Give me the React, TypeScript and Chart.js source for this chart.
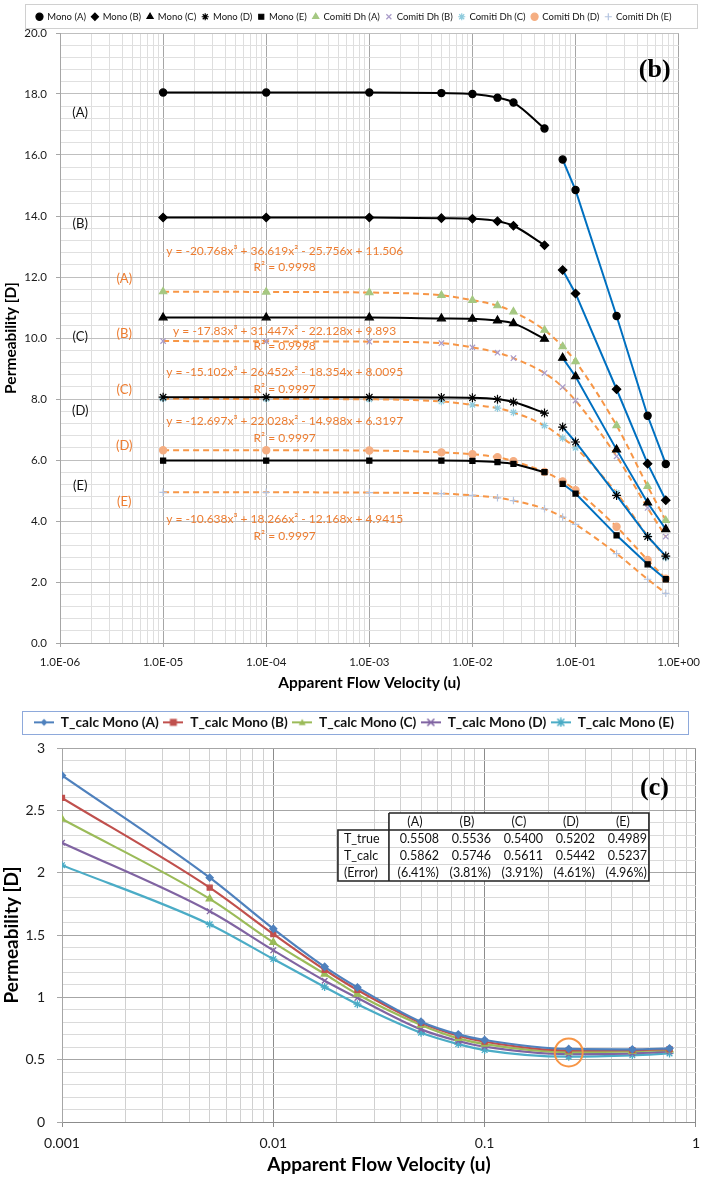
import { useEffect, useRef } from 'react';
import { Chart, registerables } from 'chart.js';

Chart.register(...registerables);

const SANS = 'Lato, "Liberation Sans", sans-serif';
const SERIF = '"Liberation Serif", "Times New Roman", serif';
Chart.defaults.font.family = SANS;
Chart.defaults.color = '#1a1a1a';

// ---------- panel (b): permeability vs apparent flow velocity ----------
const LOW_U = [1e-5, 1e-4, 1e-3, 5e-3, 1e-2, 1.75e-2, 2.5e-2, 5e-2];
const HIGH_U = [7.5e-2, 0.1, 0.25, 0.5, 0.75];
const ALL_U = [...LOW_U, ...HIGH_U];
const CASES = ['(A)', '(B)', '(C)', '(D)', '(E)'];

const MONO_A_LOW = [18.05, 18.05, 18.05, 18.03, 18.0, 17.88, 17.72, 16.87];
const MONO_B_LOW = [13.95, 13.95, 13.95, 13.93, 13.91, 13.83, 13.68, 13.04];
const MONO_C_LOW = [10.67, 10.67, 10.67, 10.64, 10.63, 10.57, 10.48, 9.97];
const MONO_D_LOW = [8.06, 8.06, 8.06, 8.05, 8.04, 7.99, 7.9, 7.54];
const MONO_E_LOW = [5.98, 5.98, 5.98, 5.98, 5.97, 5.93, 5.87, 5.6];

const MONO_A_HIGH = [15.85, 14.85, 10.72, 7.45, 5.87];
const MONO_B_HIGH = [12.23, 11.46, 8.32, 5.88, 4.68];
const MONO_C_HIGH = [9.35, 8.74, 6.34, 4.6, 3.73];
const MONO_D_HIGH = [7.08, 6.59, 4.84, 3.49, 2.85];
const MONO_E_HIGH = [5.22, 4.9, 3.53, 2.58, 2.09];

const COMITI_A = [11.52, 11.51, 11.49, 11.4, 11.24, 11.06, 10.86, 10.26, 9.72, 9.23, 7.13, 5.14, 4.02];
const COMITI_B = [9.9, 9.89, 9.88, 9.83, 9.69, 9.52, 9.34, 8.85, 8.39, 7.95, 6.12, 4.43, 3.49];
const COMITI_C = [8.01, 8.0, 7.99, 7.92, 7.81, 7.7, 7.56, 7.13, 6.72, 6.4, 4.92, 3.51, 2.8];
const COMITI_D = [6.32, 6.32, 6.31, 6.25, 6.19, 6.09, 5.96, 5.61, 5.3, 5.01, 3.81, 2.72, 2.11];
const COMITI_E = [4.94, 4.94, 4.93, 4.9, 4.84, 4.76, 4.67, 4.4, 4.13, 3.89, 2.93, 2.09, 1.63];

const FIT_EQUATIONS = [
  'y = -20.768x³ + 36.619x² - 25.756x + 11.506',
  'y = -17.83x³ + 31.447x² - 22.128x + 9.893',
  'y = -15.102x³ + 26.452x² - 18.354x + 8.0095',
  'y = -12.697x³ + 22.028x² - 14.988x + 6.3197',
  'y = -10.638x³ + 18.266x² - 12.168x + 4.9415',
];
const FIT_R2 = ['R² = 0.9998', 'R² = 0.9998', 'R² = 0.9997', 'R² = 0.9997', 'R² = 0.9997'];

// where the text notes of panel (b) sit, in axis units
const MONO_TAG_U = 1.57e-6;
const COMITI_TAG_U = 4.2e-6;
const EQ_U = 1.51e-4;
const MONO_TAG_Y = [17.39, 13.73, 10.05, 7.6, 5.14];
const COMITI_TAG_Y = [11.95, 10.13, 8.3, 6.45, 4.62];
const EQ_Y = [12.85, 10.21, 8.87, 7.27, 4.05];
const R2_Y = [12.31, 9.72, 8.32, 6.72, 3.51];

// ---------- panel (c): T_calc ----------
const U = [0.001, 0.005, 0.01, 0.0175, 0.025, 0.05, 0.075, 0.1, 0.25, 0.5, 0.75];
const TCALC_A = [2.78, 1.96, 1.55, 1.245, 1.08, 0.804, 0.703, 0.658, 0.5862, 0.583, 0.591];
const TCALC_B = [2.6, 1.88, 1.508, 1.221, 1.059, 0.796, 0.692, 0.644, 0.5746, 0.577, 0.585];
const TCALC_C = [2.43, 1.79, 1.441, 1.187, 1.025, 0.778, 0.671, 0.625, 0.5611, 0.566, 0.578];
const TCALC_D = [2.24, 1.69, 1.377, 1.133, 0.995, 0.743, 0.65, 0.604, 0.5442, 0.55, 0.566];
const TCALC_E = [2.06, 1.585, 1.307, 1.083, 0.945, 0.716, 0.625, 0.577, 0.5237, 0.535, 0.55];

const TABLE_COLS = ['(A)', '(B)', '(C)', '(D)', '(E)'];
const T_TRUE = [0.5508, 0.5536, 0.54, 0.5202, 0.4989];
const T_CALC = [0.5862, 0.5746, 0.5611, 0.5442, 0.5237];
const T_ERROR = ['(6.41%)', '(3.81%)', '(3.91%)', '(4.61%)', '(4.96%)'];
const OPT_U = 0.25;

const pts = (xs: number[], ys: number[]) => xs.map((x, i) => ({ x, y: ys[i] }));
const isDecade = (v: number) => Math.abs(Math.log10(v) - Math.round(Math.log10(v))) < 1e-6;
const isStep = (v: number, s: number) => Math.abs(v / s - Math.round(v / s)) < 1e-6;
const sci = (v: number) => {
  const e = Math.round(Math.log10(v));
  return `1.0E${e < 0 ? '-' : '+'}${String(Math.abs(e)).padStart(2, '0')}`;
};
const logTicks = (e0: number, e1: number) => {
  const out: { value: number }[] = [];
  for (let e = e0; e < e1; e++) for (let m = 1; m < 10; m++) out.push({ value: +(m * 10 ** e).toPrecision(6) });
  out.push({ value: 10 ** e1 });
  return out;
};
const linTicks = (n: number, step: number) =>
  Array.from({ length: n + 1 }, (_, i) => ({ value: +(i * step).toFixed(2) }));

// keeps a legend at a fixed height so the plot area lands where wanted
const legendHeight = (h: number) => ({
  id: 'legendHeight',
  beforeLayout(chart: any) {
    const lg = chart.legend;
    if (lg && !lg.__fixed) {
      const fit = lg.fit.bind(lg);
      lg.fit = () => {
        fit();
        lg.height = h;
      };
      lg.__fixed = true;
    }
  },
});

const legendFrame = (color: string, x0: number, y0: number, x1: number, y1: number) => ({
  id: 'legendFrame',
  afterDraw(chart: any) {
    const { ctx } = chart;
    ctx.save();
    ctx.strokeStyle = color;
    ctx.lineWidth = 1;
    ctx.strokeRect(x0 + 0.5, y0 + 0.5, x1 - x0, y1 - y0);
    ctx.restore();
  },
});

const panelBNotes = {
  id: 'panelBNotes',
  afterDatasetsDraw(chart: any) {
    const { ctx, chartArea: a } = chart;
    const x = chart.scales.x;
    const y = chart.scales.y;
    ctx.save();
    ctx.textAlign = 'center';
    ctx.textBaseline = 'middle';
    ctx.font = `13px ${SANS}`;
    ctx.fillStyle = '#111';
    CASES.forEach((c, i) => ctx.fillText(c, x.getPixelForValue(MONO_TAG_U), y.getPixelForValue(MONO_TAG_Y[i])));
    ctx.fillStyle = '#ED7D31';
    CASES.forEach((c, i) => ctx.fillText(c, x.getPixelForValue(COMITI_TAG_U), y.getPixelForValue(COMITI_TAG_Y[i])));
    ctx.font = `12px ${SANS}`;
    FIT_EQUATIONS.forEach((t, i) => {
      ctx.fillText(t, x.getPixelForValue(EQ_U), y.getPixelForValue(EQ_Y[i]));
      ctx.fillText(FIT_R2[i], x.getPixelForValue(EQ_U), y.getPixelForValue(R2_Y[i]));
    });
    ctx.font = `bold 26px ${SERIF}`;
    ctx.fillStyle = '#000';
    ctx.textAlign = 'right';
    ctx.fillText('(b)', a.right - 8, a.top + 37);
    ctx.restore();
  },
};

const panelCNotes = {
  id: 'panelCNotes',
  afterDatasetsDraw(chart: any) {
    const { ctx, chartArea: a } = chart;
    const x = chart.scales.x;
    const y = chart.scales.y;
    ctx.save();
    // ring round the optimum
    const mean = T_CALC.reduce((s, v) => s + v, 0) / T_CALC.length;
    ctx.strokeStyle = '#F79646';
    ctx.lineWidth = 2;
    ctx.beginPath();
    ctx.arc(x.getPixelForValue(OPT_U), y.getPixelForValue(mean), 14, 0, Math.PI * 2);
    ctx.stroke();

    // results table
    const colW = 52;
    const labW = 51;
    const rowH = 17;
    const right = a.right - 47;
    const top = a.top + 65;
    const left = right - colW * 5 - labW;
    const split = left + labW;
    const bottom = top + rowH * 4;
    ctx.fillStyle = '#fff';
    ctx.fillRect(split, top, right - split, rowH);
    ctx.fillRect(left, top + rowH, right - left, rowH * 3);

    ctx.strokeStyle = '#d6d6d6';
    ctx.lineWidth = 1;
    ctx.beginPath();
    [2, 3].forEach((r) => {
      ctx.moveTo(left, top + rowH * r + 0.5);
      ctx.lineTo(right, top + rowH * r + 0.5);
    });
    ctx.stroke();

    ctx.strokeStyle = '#222';
    ctx.lineWidth = 1.6;
    ctx.beginPath();
    ctx.moveTo(split, top);
    ctx.lineTo(right, top);
    ctx.lineTo(right, bottom);
    ctx.lineTo(left, bottom);
    ctx.lineTo(left, top + rowH);
    ctx.lineTo(right, top + rowH);
    ctx.moveTo(split, top);
    ctx.lineTo(split, bottom);
    ctx.stroke();

    ctx.fillStyle = '#111';
    ctx.font = `12.5px ${SANS}`;
    ctx.textBaseline = 'middle';
    ctx.textAlign = 'center';
    TABLE_COLS.forEach((c, i) => ctx.fillText(c, split + colW * i + colW / 2, top + rowH / 2));
    const rows: [string, string[]][] = [
      ['T_true', T_TRUE.map((v) => v.toFixed(4))],
      ['T_calc', T_CALC.map((v) => v.toFixed(4))],
      ['(Error)', T_ERROR],
    ];
    rows.forEach(([label, vals], r) => {
      const cy = top + rowH * (r + 1) + rowH / 2;
      ctx.textAlign = 'left';
      ctx.fillText(label, left + 6, cy);
      ctx.textAlign = 'right';
      vals.forEach((v, i) => ctx.fillText(v, split + colW * (i + 1) - 2, cy));
    });

    ctx.font = `bold 26px ${SERIF}`;
    ctx.fillStyle = '#000';
    ctx.textAlign = 'right';
    ctx.fillText('(c)', a.right - 27, a.top + 40);
    ctx.restore();
  },
};

function marker(g: CanvasRenderingContext2D, shape: string, cx: number, cy: number, r: number) {
  g.beginPath();
  if (shape === 'rectRot') {
    g.moveTo(cx, cy - r);
    g.lineTo(cx + r, cy);
    g.lineTo(cx, cy + r);
    g.lineTo(cx - r, cy);
    g.closePath();
    g.fill();
  } else if (shape === 'rect') {
    g.fillRect(cx - r, cy - r, r * 2, r * 2);
  } else if (shape === 'triangle') {
    g.moveTo(cx, cy - r);
    g.lineTo(cx + r, cy + r * 0.8);
    g.lineTo(cx - r, cy + r * 0.8);
    g.closePath();
    g.fill();
  } else {
    g.moveTo(cx - r, cy - r);
    g.lineTo(cx + r, cy + r);
    g.moveTo(cx + r, cy - r);
    g.lineTo(cx - r, cy + r);
    if (shape === 'star') {
      g.moveTo(cx, cy - r * 1.3);
      g.lineTo(cx, cy + r * 1.3);
    }
    g.stroke();
  }
}

function legendIcon(color: string, shape: string) {
  const c = document.createElement('canvas');
  c.width = 20;
  c.height = 10;
  const g = c.getContext('2d')!;
  g.strokeStyle = color;
  g.fillStyle = color;
  g.lineWidth = 2;
  g.beginPath();
  g.moveTo(0, 5);
  g.lineTo(20, 5);
  g.stroke();
  g.lineWidth = 1.5;
  marker(g, shape, 10, 5, 3.5);
  return c;
}

const gridColor = (major: string, minor: string, test: (v: number) => boolean) => (c: any) =>
  c.tick && test(c.tick.value) ? major : minor;

function topConfig(): any {
  const monoLow = [MONO_A_LOW, MONO_B_LOW, MONO_C_LOW, MONO_D_LOW, MONO_E_LOW];
  const monoHigh = [MONO_A_HIGH, MONO_B_HIGH, MONO_C_HIGH, MONO_D_HIGH, MONO_E_HIGH];
  const comiti = [COMITI_A, COMITI_B, COMITI_C, COMITI_D, COMITI_E];
  const monoShape = [
    { s: 'circle', r: 3.6 },
    { s: 'rectRot', r: 4.2 },
    { s: 'triangle', r: 4.6 },
    { s: 'star', r: 4.5 },
    { s: 'rect', r: 3.6 },
  ];
  const comitiShape = [
    { s: 'triangle', r: 4.2, c: '#A5C882' },
    { s: 'crossRot', r: 3.8, c: '#A99BC9' },
    { s: 'star', r: 3.8, c: '#8FCBDD' },
    { s: 'circle', r: 3.6, c: '#F5AE82' },
    { s: 'cross', r: 3.8, c: '#B4C4E0' },
  ];
  const monoPoint = (i: number) => ({
    pointStyle: monoShape[i].s,
    pointRadius: monoShape[i].r,
    pointBackgroundColor: '#000',
    pointBorderColor: '#000',
    pointBorderWidth: 1.2,
  });
  const datasets = [
    ...CASES.map((c, i) => ({
      label: `Mono ${c}`,
      data: pts(LOW_U, monoLow[i]),
      borderColor: '#000',
      borderWidth: 2,
      cubicInterpolationMode: 'monotone',
      ...monoPoint(i),
    })),
    ...CASES.map((c, i) => ({
      label: `Mono ${c}`,
      data: pts(HIGH_U, monoHigh[i]),
      borderColor: '#0070C0',
      borderWidth: 2,
      tension: 0,
      ...monoPoint(i),
    })),
    ...CASES.map((c, i) => ({
      label: `Comiti Dh ${c}`,
      data: pts(ALL_U, comiti[i]),
      borderColor: '#F79646',
      borderWidth: 2,
      borderDash: [6, 4],
      cubicInterpolationMode: 'monotone',
      pointStyle: comitiShape[i].s,
      pointRadius: comitiShape[i].r,
      pointBackgroundColor: comitiShape[i].c,
      pointBorderColor: comitiShape[i].c,
      pointBorderWidth: 1.2,
    })),
  ];
  return {
    type: 'line',
    data: { datasets },
    options: {
      animation: false,
      responsive: true,
      maintainAspectRatio: false,
      events: [],
      layout: { padding: { top: 6, left: 0, right: 0, bottom: 0 } },
      plugins: {
        tooltip: { enabled: false },
        legend: {
          position: 'top',
          labels: {
            usePointStyle: true,
            boxWidth: 6,
            boxHeight: 5,
            padding: 6,
            color: '#111',
            font: { size: 9.5 },
            filter: (item: any) => item.datasetIndex < 5 || item.datasetIndex >= 10,
          },
        },
      },
      scales: {
        x: {
          type: 'logarithmic',
          min: 1e-6,
          max: 1,
          afterBuildTicks: (s: any) => {
            s.ticks = logTicks(-6, 0);
          },
          afterFit: (s: any) => {
            s.height = 52;
          },
          ticks: {
            autoSkip: false,
            maxRotation: 0,
            padding: 8,
            font: { size: 11.5 },
            callback: (v: any) => (isDecade(+v) ? sci(+v) : ''),
          },
          grid: {
            color: gridColor('#A6A6A6', '#DEDEDE', isDecade),
            tickColor: gridColor('#A6A6A6', 'rgba(0,0,0,0)', isDecade),
            tickLength: 4,
          },
          border: { color: '#A6A6A6' },
          title: {
            display: true,
            text: 'Apparent Flow Velocity (u)',
            color: '#000',
            font: { size: 15.5, weight: 'bold' },
            padding: { top: 0, bottom: 3 },
          },
        },
        y: {
          min: 0,
          max: 20,
          afterBuildTicks: (s: any) => {
            s.ticks = linTicks(50, 0.4);
          },
          afterFit: (s: any) => {
            s.width = 60;
          },
          ticks: {
            autoSkip: false,
            padding: 9,
            font: { size: 11.5 },
            callback: (v: any) => (isStep(+v, 2) ? (+v).toFixed(1) : ''),
          },
          grid: {
            color: gridColor('#BFBFBF', '#E0E0E0', (v) => isStep(v, 2)),
            tickColor: gridColor('#A6A6A6', 'rgba(0,0,0,0)', (v) => isStep(v, 2)),
            tickLength: 4,
          },
          border: { color: '#A6A6A6' },
          title: {
            display: true,
            text: 'Permeability [D]',
            color: '#000',
            font: { size: 15.5, weight: 'bold' },
            padding: { top: 2, bottom: 0 },
          },
        },
        pad: {
          position: 'right',
          display: true,
          afterFit: (s: any) => {
            s.width = 25;
          },
          ticks: { display: false },
          grid: { display: false, drawTicks: false },
          border: { display: false },
        },
      },
    },
    plugins: [legendHeight(27), legendFrame('#D0D0D0', 25, 4, 697, 28), panelBNotes],
  };
}

function bottomConfig(): any {
  const series = [TCALC_A, TCALC_B, TCALC_C, TCALC_D, TCALC_E];
  const colors = ['#4F81BD', '#C0504D', '#9BBB59', '#8064A2', '#4BACC6'];
  const shapes = [
    { s: 'rectRot', r: 3.5 },
    { s: 'rect', r: 3.5 },
    { s: 'triangle', r: 4 },
    { s: 'crossRot', r: 4 },
    { s: 'star', r: 4 },
  ];
  const icons = colors.map((c, i) => legendIcon(c, shapes[i].s));
  const datasets = CASES.map((c, i) => ({
    label: `T_calc Mono ${c}`,
    data: pts(U, series[i]),
    borderColor: colors[i],
    backgroundColor: colors[i],
    borderWidth: 2.2,
    cubicInterpolationMode: 'monotone',
    pointStyle: shapes[i].s,
    pointRadius: shapes[i].r,
    pointBackgroundColor: colors[i],
    pointBorderColor: colors[i],
    pointBorderWidth: 1.3,
  }));
  const yMajor = (v: number) => isStep(v, 0.5);
  return {
    type: 'line',
    data: { datasets },
    options: {
      animation: false,
      responsive: true,
      maintainAspectRatio: false,
      events: [],
      layout: { padding: { top: 16, left: 0, right: 0, bottom: 0 } },
      plugins: {
        tooltip: { enabled: false },
        legend: {
          position: 'top',
          labels: {
            usePointStyle: true,
            pointStyleWidth: 20,
            boxHeight: 10,
            padding: 4.5,
            color: '#111',
            font: { size: 13.7, weight: 'bold' },
            generateLabels: (chart: any) => {
              const items = Chart.defaults.plugins.legend.labels.generateLabels(chart);
              items.forEach((it: any) => {
                it.pointStyle = icons[it.datasetIndex];
              });
              return items;
            },
          },
        },
      },
      scales: {
        x: {
          type: 'logarithmic',
          min: 0.001,
          max: 1,
          afterBuildTicks: (s: any) => {
            s.ticks = logTicks(-3, 0);
          },
          afterFit: (s: any) => {
            s.height = 60;
          },
          ticks: {
            autoSkip: false,
            maxRotation: 0,
            padding: 8,
            font: { size: 14 },
            callback: (v: any) => (isDecade(+v) ? String(+(+v).toPrecision(6)) : ''),
          },
          grid: {
            color: gridColor('#8C8C8C', '#D0D0D0', isDecade),
            tickColor: gridColor('#8C8C8C', 'rgba(0,0,0,0)', isDecade),
            tickLength: 5,
          },
          border: { color: '#8C8C8C' },
          title: {
            display: true,
            text: 'Apparent Flow Velocity (u)',
            color: '#000',
            font: { size: 19, weight: 'bold' },
            padding: { top: 0, bottom: 6 },
          },
        },
        y: {
          min: 0,
          max: 3,
          afterBuildTicks: (s: any) => {
            s.ticks = linTicks(30, 0.1);
          },
          afterFit: (s: any) => {
            s.width = 62;
          },
          ticks: {
            autoSkip: false,
            padding: 12,
            font: { size: 14 },
            callback: (v: any) => (yMajor(+v) ? String(+(+v).toFixed(1)) : ''),
          },
          grid: {
            color: gridColor('#A6A6A6', '#DADADA', yMajor),
            tickColor: gridColor('#A6A6A6', 'rgba(0,0,0,0)', yMajor),
            tickLength: 5,
          },
          border: { color: '#A6A6A6' },
          title: {
            display: true,
            text: 'Permeability [D]',
            color: '#000',
            font: { size: 19, weight: 'bold' },
            padding: { top: 0, bottom: 0 },
          },
        },
        pad: {
          position: 'right',
          display: true,
          afterFit: (s: any) => {
            s.width = 6;
          },
          ticks: { display: false },
          grid: { display: false, drawTicks: false },
          border: { display: false },
        },
      },
    },
    plugins: [legendHeight(37), legendFrame('#8EA9DB', 22, 16, 688, 39), panelCNotes],
  };
}

export default function App() {
  const topRef = useRef<HTMLCanvasElement>(null);
  const bottomRef = useRef<HTMLCanvasElement>(null);

  useEffect(() => {
    document.body.style.margin = '0';
    if (!topRef.current || !bottomRef.current) return;
    const top = new Chart(topRef.current, topConfig());
    const bottom = new Chart(bottomRef.current, bottomConfig());
    return () => {
      top.destroy();
      bottom.destroy();
    };
  }, []);

  return (
    <div style={{ width: 708, background: '#fff' }}>
      <div style={{ position: 'relative', width: 708, height: 695 }}>
        <canvas ref={topRef} />
      </div>
      <div style={{ position: 'relative', width: 708, height: 487 }}>
        <canvas ref={bottomRef} />
      </div>
    </div>
  );
}
